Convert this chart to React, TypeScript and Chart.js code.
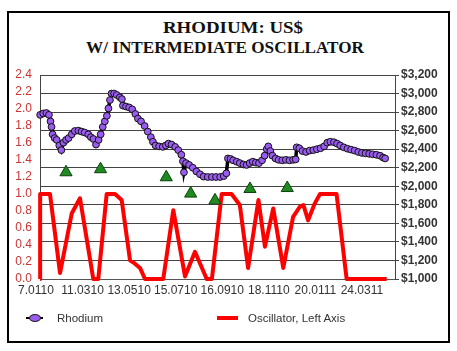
import React, { useEffect, useRef } from "react";
import { Chart, registerables } from "chart.js";

Chart.register(...registerables);

// x positions are in weeks counted from 7 Jan 2010
const tickWeeks = [0, 9, 18, 27, 36, 45, 54, 63];
const tickLabels = ["7.0110", "11.0310", "13.0510", "15.0710", "16.0910", "18.1110", "20.0111", "24.0311"];

const priceWeeks = [0.8, 1.4, 2.0, 2.5, 2.8, 3.0, 3.2, 3.6, 4.0, 4.5, 4.9, 5.3, 5.8, 6.3, 6.9, 7.5, 8.2, 8.8, 9.4, 10.1, 10.6, 11.1, 11.6, 12.1, 12.5, 12.9, 13.3, 13.7, 14.0, 14.3, 14.6, 15.1, 15.6, 16.2, 16.6, 16.8, 17.4, 18.0, 18.6, 19.2, 19.7, 20.3, 21.0, 21.6, 22.2, 22.6, 23.1, 23.8, 24.5, 25.1, 25.6, 26.2, 26.9, 27.5, 28.1, 28.4, 28.6, 29.0, 29.6, 30.3, 31.0, 31.7, 32.4, 33.2, 34.0, 34.8, 35.6, 36.3, 36.8, 37.1, 37.6, 38.1, 38.8, 39.4, 40.1, 40.7, 41.3, 41.9, 42.5, 43.1, 43.7, 44.2, 44.6, 44.9, 45.3, 45.7, 46.3, 46.9, 47.6, 48.3, 49.0, 49.7, 50.2, 50.4, 50.9, 51.5, 52.2, 52.9, 53.6, 54.3, 55.0, 55.7, 56.3, 56.9, 57.6, 58.2, 58.8, 59.5, 60.2, 60.9, 61.6, 62.3, 63.0, 63.7, 64.4, 65.1, 65.8, 66.5, 67.1, 67.5];
const priceValues = [2770, 2785, 2790, 2770, 2700, 2640, 2560, 2520, 2500, 2440, 2390, 2470, 2500, 2520, 2560, 2596, 2600, 2590, 2580, 2560, 2530, 2510, 2450, 2500, 2560, 2640, 2700, 2760, 2840, 2930, 3000, 3000, 2985, 2960, 2940, 2870, 2860, 2850, 2830, 2780, 2730, 2700, 2650, 2590, 2530, 2480, 2440, 2430, 2425, 2440, 2460, 2450, 2425, 2390, 2340, 2270, 2150, 2250, 2230, 2200, 2160, 2130, 2104, 2100, 2100, 2100, 2100, 2110, 2140, 2300, 2295, 2280, 2265, 2250, 2235, 2230, 2250, 2265, 2255, 2250, 2280, 2330, 2400, 2430, 2380, 2330, 2300, 2285, 2280, 2285, 2280, 2285, 2290, 2420, 2410, 2380, 2370, 2385, 2390, 2400, 2410, 2430, 2470, 2480, 2475, 2460, 2440, 2420, 2405, 2395, 2385, 2370, 2360, 2355, 2350, 2345, 2340, 2330, 2310, 2300];

const oscWeeks = [0.77, 0.8, 2.7, 4.64, 6.9, 8.5, 10.1, 11.07, 12.04, 13.66, 15.27, 16.56, 18.17, 19.13, 20.1, 21.07, 24.6, 26.54, 28.8, 30.73, 33.0, 34.0, 35.9, 37.8, 39.4, 41.0, 43.0, 44.26, 45.86, 47.8, 49.7, 51.0, 51.7, 52.6, 53.9, 54.9, 58.1, 60.05, 67.8];
const oscValues = [0, 1, 1, 0.07, 0.77, 0.95, 0.36, 0, 0, 1, 1, 0.93, 0.22, 0.18, 0.13, 0, 0, 0.81, 0.03, 0.32, 0, 0, 1, 1, 0.87, 0.13, 0.93, 0.38, 0.83, 0.13, 0.73, 0.85, 0.87, 0.69, 0.89, 1, 1, 0, 0];

const signalWeeks = [5.8, 12.47, 25.18, 29.9, 34.6, 41.36, 48.57];
const signalValues = [2151, 2184, 2097, 1921, 1848, 1971, 1981];

const PURPLE = "#9a5cf0";
const RED = "#ff0000";
const GREEN = "#1f8a1f";

function pairs(xs: number[], ys: number[]) {
  const n = Math.min(xs.length, ys.length);
  const out: { x: number; y: number }[] = [];
  for (let i = 0; i < n; i++) out.push({ x: xs[i], y: ys[i] });
  return out;
}

export default function App() {
  const ref = useRef<HTMLCanvasElement | null>(null);

  useEffect(() => {
    if (!ref.current) return;
    Chart.defaults.font.family = "'Liberation Sans', Arial, sans-serif";
    const chart = new Chart(ref.current, {
      type: "line",
      data: {
        datasets: [
          {
            label: "Signals",
            data: pairs(signalWeeks, signalValues),
            yAxisID: "y1",
            showLine: false,
            pointStyle: "triangle",
            pointRadius: 7,
            pointBackgroundColor: GREEN,
            pointBorderColor: "#0c400c",
            pointBorderWidth: 1,
            clip: false,
            order: 0,
          },
          {
            label: "Rhodium",
            data: pairs(priceWeeks, priceValues),
            yAxisID: "y1",
            borderColor: "#000",
            borderWidth: 3.5,
            pointRadius: 3.4,
            pointBackgroundColor: PURPLE,
            pointBorderColor: "#111",
            pointBorderWidth: 1,
            tension: 0,
            clip: false,
            order: 1,
          },
          {
            label: "Oscillator, Left Axis",
            data: pairs(oscWeeks, oscValues),
            yAxisID: "y",
            borderColor: RED,
            borderWidth: 4,
            borderJoinStyle: "round",
            pointRadius: 0,
            tension: 0,
            clip: false,
            order: 2,
          },
        ],
      },
      options: {
        animation: false,
        responsive: false,
        events: [],
        layout: { padding: { top: 75, left: 0, right: 0, bottom: 52 } },
        plugins: { legend: { display: false }, tooltip: { enabled: false }, title: { display: false } },
        scales: {
          x: {
            type: "linear",
            min: 0.77,
            max: 69.4,
            grid: { display: false, drawTicks: false },
            border: { display: true, color: "#555" },
            afterBuildTicks: (scale: any) => {
              scale.ticks = tickWeeks.map((v) => ({ value: v }));
            },
            afterFit: (scale: any) => {
              scale.height = 20;
            },
            ticks: {
              autoSkip: false,
              maxRotation: 0,
              padding: 4,
              color: "#333",
              font: { size: 12 },
              callback: (v: any) => {
                const i = tickWeeks.indexOf(Number(v));
                return i >= 0 ? tickLabels[i] : "";
              },
            },
          },
          y: {
            position: "left",
            min: 0,
            max: 2.4,
            grid: { display: false, drawTicks: false },
            border: { display: true, color: "#444" },
            afterFit: (scale: any) => {
              scale.width = 40;
            },
            ticks: {
              stepSize: 0.2,
              autoSkip: false,
              padding: 8,
              color: "#cc3333",
              font: { size: 12 },
              callback: (v: any) => Number(v).toFixed(1),
            },
          },
          y1: {
            position: "right",
            min: 1000,
            max: 3200,
            grid: { display: true, drawOnChartArea: true, color: "#444", tickLength: 4, tickColor: "#444" },
            border: { display: true, color: "#444" },
            afterFit: (scale: any) => {
              scale.width = 62;
            },
            ticks: {
              stepSize: 200,
              autoSkip: false,
              padding: 2,
              color: "#333",
              font: { size: 12, weight: "bold" },
              callback: (v: any) => "$" + Number(v).toLocaleString("en-US"),
            },
          },
        },
      },
    });
    return () => chart.destroy();
  }, []);

  const serif = "'Liberation Serif', 'Times New Roman', serif";
  const sans = "'Liberation Sans', Arial, sans-serif";

  return (
    <div style={{ position: "fixed", left: 0, top: 0, width: 457, height: 351, background: "#fff", overflow: "hidden" }}>
      <div
        style={{
          position: "absolute",
          left: 7,
          top: 11,
          width: 443,
          height: 332,
          border: "2px solid #000",
          boxSizing: "border-box",
        }}
      />
      <div
        style={{
          position: "absolute",
          left: 233,
          top: 20,
          lineHeight: "16px",
          fontSize: 16,
          fontFamily: serif,
          fontWeight: 700,
          color: "#111",
          whiteSpace: "nowrap",
          transform: "translateX(-50%) scaleX(1.18)",
        }}
      >
        RHODIUM: US$
      </div>
      <div
        style={{
          position: "absolute",
          left: 225,
          top: 40,
          lineHeight: "16px",
          fontSize: 16,
          fontFamily: serif,
          fontWeight: 700,
          color: "#111",
          whiteSpace: "nowrap",
          transform: "translateX(-50%) scaleX(1.07)",
        }}
      >
        W/ INTERMEDIATE OSCILLATOR
      </div>
      <canvas ref={ref} width={457} height={351} style={{ position: "absolute", left: 0, top: 0, width: 457, height: 351 }} />
      <div style={{ position: "absolute", left: 26, top: 317, width: 17, height: 1.5, background: "#000" }} />
      <div
        style={{
          position: "absolute",
          left: 29,
          top: 314,
          width: 12,
          height: 8,
          borderRadius: "50%",
          background: PURPLE,
          border: "1px solid #222",
          boxSizing: "border-box",
        }}
      />
      <div style={{ position: "absolute", left: 57, top: 311, fontSize: 11.5, lineHeight: "14px", fontFamily: sans, color: "#333" }}>
        Rhodium
      </div>
      <div style={{ position: "absolute", left: 217, top: 316, width: 21, height: 4, background: RED }} />
      <div style={{ position: "absolute", left: 248, top: 311, fontSize: 11.5, lineHeight: "14px", fontFamily: sans, color: "#333" }}>
        Oscillator, Left Axis
      </div>
    </div>
  );
}
